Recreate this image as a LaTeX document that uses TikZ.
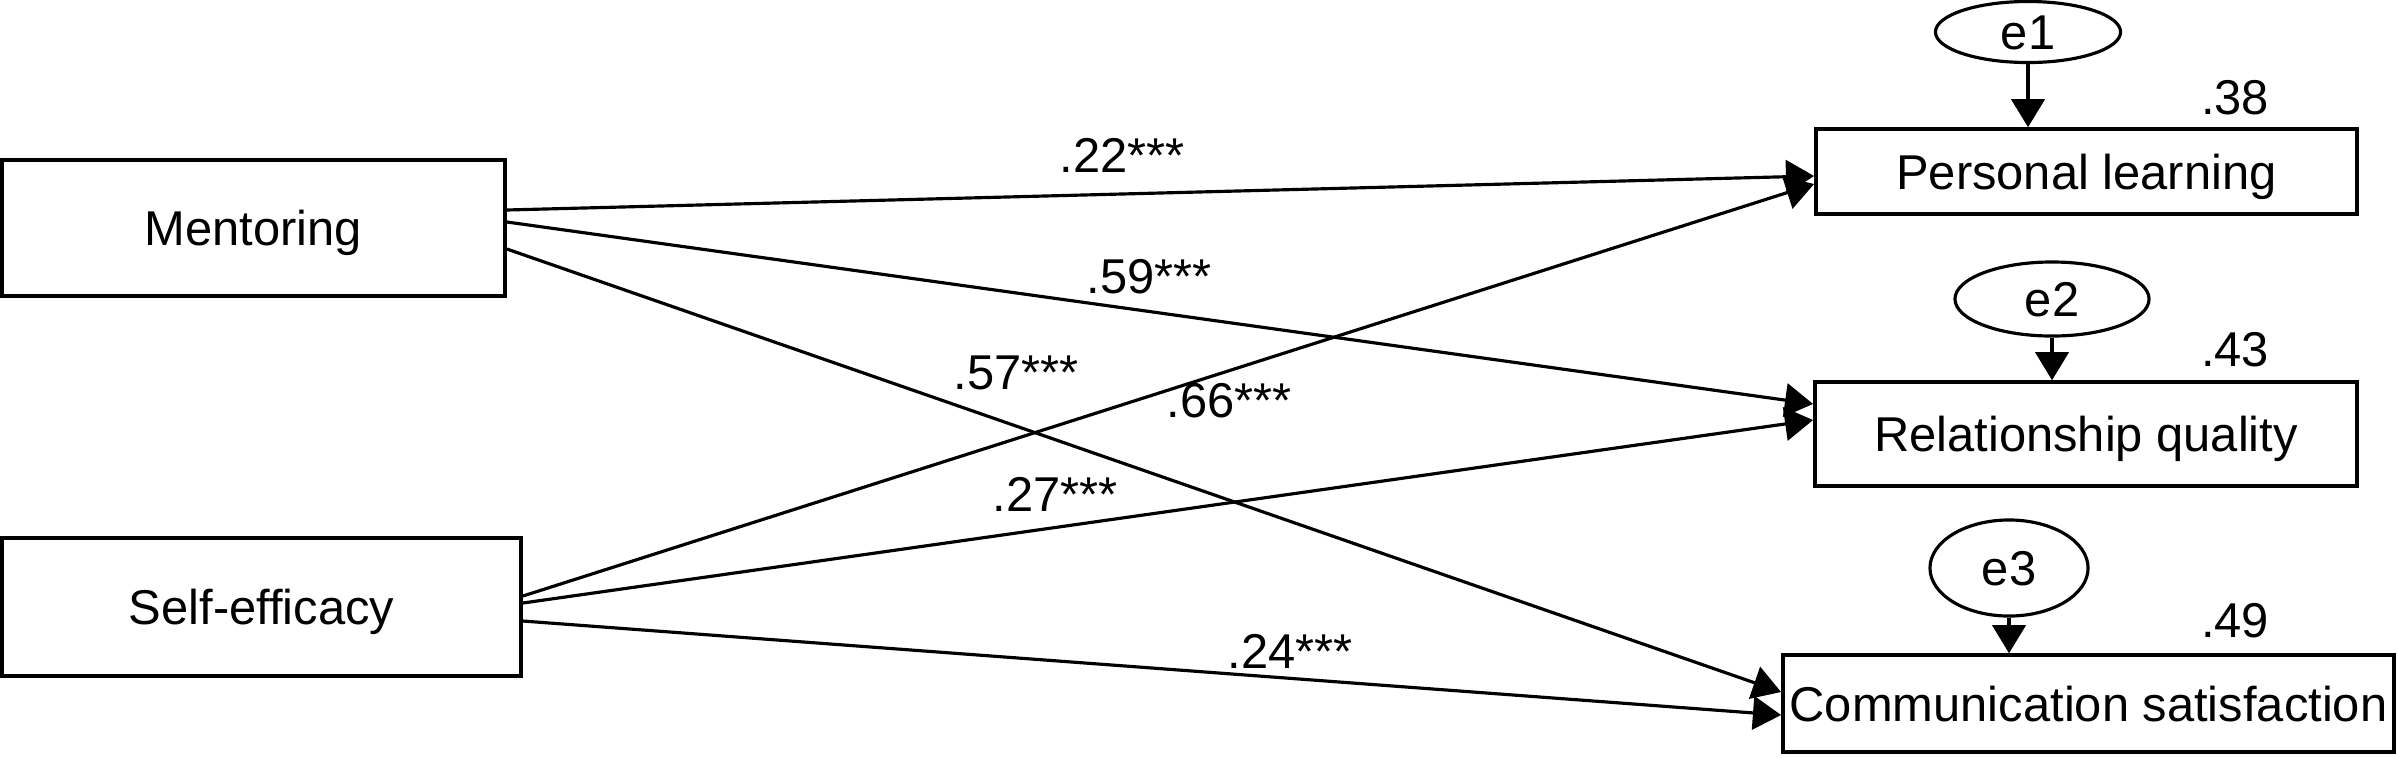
\documentclass[tikz,border=0pt]{standalone}
\usepackage{fontspec}
\setmainfont{Liberation Sans}
\usetikzlibrary{arrows.meta,shapes.geometric}
\begin{document}
\begin{tikzpicture}[x=0.01cm,y=-0.01cm,
  every node/.style={font=\fontsize{13.9}{16}\selectfont},
  varbox/.style={draw,line width=1pt,rectangle,inner sep=0pt,text height=10pt,text depth=0pt},
  errnode/.style={draw,line width=0.9pt,ellipse,inner sep=0pt,text height=10pt,text depth=0pt},
  coef/.style={inner sep=0pt,text height=10pt,text depth=0pt},
  arr/.style={line width=0.9pt,-{Triangle[length=8pt,width=9.5pt]}}]
\useasboundingbox (0,0) rectangle (2398,757);
% exogenous
\node[varbox,minimum width=5.03cm,minimum height=1.36cm] (M) at (253.5,228) {Mentoring};
\node[varbox,minimum width=5.19cm,minimum height=1.38cm] (SE) at (261.5,607) {Self-efficacy};
% endogenous
\node[varbox,minimum width=5.41cm,minimum height=0.85cm] (PL) at (2086.5,171.5) {Personal learning};
\node[varbox,minimum width=5.42cm,minimum height=1.04cm] (RQ) at (2086,434) {Relationship quality};
\node[varbox,minimum width=6.11cm,minimum height=0.97cm] (CS) at (2088.5,703.5) {Communication satisfaction};
% errors
\node[errnode,minimum width=1.85cm,minimum height=0.61cm] (e1) at (2028,32) {e1};
\node[errnode,minimum width=1.94cm,minimum height=0.74cm] (e2) at (2052,299) {e2};
\node[errnode,minimum width=1.58cm,minimum height=0.96cm] (e3) at (2009,568) {e3};
\draw[arr] (e1.south) -- (e1.south |- PL.north);
\draw[arr] (e2.south) -- (e2.south |- RQ.north);
\draw[arr] (e3.south) -- (e3.south |- CS.north);
% R squared
\node[coef] (r1) at (2235,97) {.38};
\node[coef] (r2) at (2235,349) {.43};
\node[coef] (r3) at (2235,620) {.49};
% paths
\draw[arr] ([yshift=0.18cm]M.east) -- ([yshift=-0.045cm]PL.west);
\draw[arr] ([yshift=0.06cm]M.east) -- ([yshift=0.30cm]RQ.west);
\draw[arr] ([yshift=-0.21cm]M.east) -- ([yshift=0.115cm]CS.west);
\draw[arr] ([yshift=0.11cm]SE.east) -- ([yshift=-0.125cm]PL.west);
\draw[arr] ([yshift=0.04cm]SE.east) -- ([yshift=0.14cm]RQ.west);
\draw[arr] ([yshift=-0.14cm]SE.east) -- ([yshift=-0.115cm]CS.west);
% coefficients
\node[coef] (c22) at (1122,155) {.22***};
\node[coef] (c59) at (1149,276) {.59***};
\node[coef] (c57) at (1016,372) {.57***};
\node[coef] (c66) at (1229,400) {.66***};
\node[coef] (c27) at (1055,494) {.27***};
\node[coef] (c24) at (1290,651) {.24***};
\end{tikzpicture}
\end{document}
